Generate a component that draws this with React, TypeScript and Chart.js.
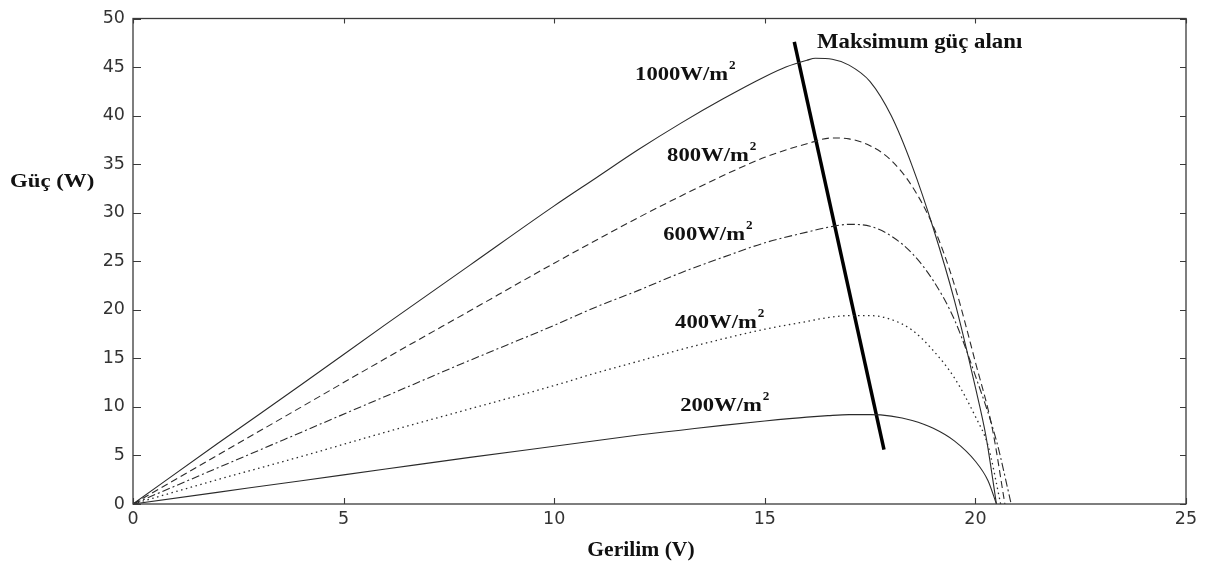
import React, { useEffect, useRef } from "react";
import { Chart, registerables } from "chart.js";

Chart.register(...registerables);

// ---- data ----
const xTickValues = [0, 5, 10, 15, 20, 25];
const yTickValues = [0, 5, 10, 15, 20, 25, 30, 35, 40, 45, 50];

const v1000 = [0, 2, 4, 6, 8, 10, 11, 12, 13, 14, 15, 15.5, 16, 16.2, 16.6, 17, 17.5, 18, 18.5, 19, 19.5, 20, 20.25, 20.5];
const p1000 = [0, 6.2, 12.3, 18.5, 24.6, 30.7, 33.6, 36.5, 39.2, 41.7, 44.0, 45.0, 45.7, 45.9, 45.8, 45.2, 43.5, 40.0, 34.8, 28.4, 21.0, 12.0, 7.0, 0];

const v800 = [0, 2, 4, 6, 8, 10, 12, 13, 14, 15, 16, 16.6, 17, 17.5, 18, 18.5, 19, 19.5, 20, 20.4, 20.7];
const p800 = [0, 5.0, 10.0, 15.0, 19.9, 24.8, 29.5, 31.7, 33.8, 35.7, 37.1, 37.7, 37.6, 36.9, 35.4, 32.7, 28.6, 22.6, 14.6, 7.8, 0];

const v600 = [0, 2, 4, 6, 8, 10, 11, 12, 13, 14, 15, 16, 16.5, 17, 17.5, 18, 18.5, 19, 19.5, 20, 20.5, 20.85];
const p600 = [0, 3.7, 7.4, 11.1, 14.8, 18.4, 20.3, 22.0, 23.8, 25.4, 26.9, 28.0, 28.5, 28.8, 28.6, 27.6, 25.8, 23.0, 19.0, 13.2, 6.5, 0];

const v400 = [0, 2, 4, 6, 8, 10, 11, 12, 13, 14, 15, 16, 16.5, 17, 17.5, 18, 18.5, 19, 19.5, 20, 20.3, 20.6];
const p400 = [0, 2.5, 4.9, 7.4, 9.8, 12.2, 13.5, 14.7, 15.9, 17.0, 18.0, 18.8, 19.2, 19.4, 19.4, 19.0, 17.9, 15.8, 13.0, 9.0, 6.0, 0];

const v200 = [0, 2, 4, 6, 8, 10, 12, 13, 14, 15, 16, 16.5, 17, 17.5, 18, 18.5, 19, 19.5, 20, 20.3, 20.5];
const p200 = [0, 1.2, 2.4, 3.6, 4.8, 5.95, 7.1, 7.6, 8.1, 8.55, 8.95, 9.1, 9.2, 9.2, 9.05, 8.6, 7.8, 6.5, 4.4, 2.4, 0];

const mppV = [15.7, 17.83];
const mppP = [47.6, 5.6];

const seriesNames = ["1000W/m", "800W/m", "600W/m", "400W/m", "200W/m"];
const mppLabel = "Maksimum güç alanı";
const xTitle = "Gerilim (V)";
const yTitle = "Güç (W)";

// label anchors (data coordinates: voltage, power of text baseline)
const labelAnchors = [
  [11.92, 43.7],
  [12.68, 35.3],
  [12.59, 27.2],
  [12.87, 18.1],
  [12.99, 9.55],
];
const mppLabelAnchor = [16.24, 46.95];

const zip = (xs: number[], ys: number[]) => xs.map((x, i) => ({ x, y: ys[i] }));

const SERIF = '"Liberation Serif", "Times New Roman", serif';

function drawStretched(ctx: CanvasRenderingContext2D, text: string, x: number, y: number, size: number, sx: number) {
  ctx.save();
  ctx.translate(x, y);
  ctx.scale(sx, 1);
  ctx.font = `bold ${size}px ${SERIF}`;
  ctx.textAlign = "left";
  ctx.textBaseline = "alphabetic";
  ctx.fillText(text, 0, 0);
  const w = ctx.measureText(text).width * sx;
  ctx.restore();
  return w;
}

const framePlugin = {
  id: "framePlugin",
  afterDraw(chart: any) {
    const { ctx, chartArea: a, scales } = chart;
    const xs = scales.x;
    const ys = scales.y;
    ctx.save();
    ctx.strokeStyle = "#3a3a3a";
    ctx.lineWidth = 1.3;
    ctx.strokeRect(a.left, a.top, a.right - a.left, a.bottom - a.top);
    ctx.lineWidth = 1.1;
    ctx.beginPath();
    xs.ticks.forEach((t: any) => {
      const px = Math.round(xs.getPixelForValue(t.value)) + 0.5;
      ctx.moveTo(px, a.bottom);
      ctx.lineTo(px, a.bottom - 6);
      ctx.moveTo(px, a.top);
      ctx.lineTo(px, a.top + 5);
    });
    ys.ticks.forEach((t: any) => {
      const py = Math.round(ys.getPixelForValue(t.value)) + 0.5;
      ctx.moveTo(a.left, py);
      ctx.lineTo(a.left + 8, py);
      ctx.moveTo(a.right, py);
      ctx.lineTo(a.right - 6, py);
    });
    ctx.stroke();

    ctx.fillStyle = "#111";
    const sx = 1.16;
    seriesNames.forEach((name, i) => {
      const px = xs.getPixelForValue(labelAnchors[i][0]);
      const py = ys.getPixelForValue(labelAnchors[i][1]);
      const w = drawStretched(ctx, name, px, py, 19.5, sx);
      drawStretched(ctx, "2", px + w + 1, py - 11, 12, 1.1);
    });
    drawStretched(ctx, mppLabel, xs.getPixelForValue(mppLabelAnchor[0]), ys.getPixelForValue(mppLabelAnchor[1]), 20, 1.14);

    // axis titles
    drawStretched(ctx, yTitle, 10, ys.getPixelForValue(32.6), 19, 1.2);
    ctx.save();
    ctx.font = `bold 20px ${SERIF}`;
    const tw = ctx.measureText(xTitle).width * 1.08;
    ctx.restore();
    const cx = xs.getPixelForValue(12.06);
    drawStretched(ctx, xTitle, cx - tw / 2, a.bottom + 52, 20, 1.08);
    ctx.restore();
  },
};

const lineColor = "#2b2b2b";

export default function App() {
  const ref = useRef<HTMLCanvasElement | null>(null);
  useEffect(() => {
    if (!ref.current) return;
    const common = {
      borderColor: lineColor,
      borderWidth: 1.1,
      pointRadius: 0,
      fill: false,
      cubicInterpolationMode: "monotone" as const,
    };
    const chart = new Chart(ref.current, {
      type: "line",
      data: {
        datasets: [
          { ...common, label: "1000", data: zip(v1000, p1000) },
          { ...common, label: "800", data: zip(v800, p800), borderDash: [7, 4] },
          { ...common, label: "600", data: zip(v600, p600), borderDash: [8, 3, 2, 3] },
          { ...common, label: "400", data: zip(v400, p400), borderDash: [1.5, 3.5], borderWidth: 1.3 },
          { ...common, label: "200", data: zip(v200, p200) },
          {
            label: "mpp",
            data: zip(mppV, mppP),
            borderColor: "#000",
            borderWidth: 3.5,
            pointRadius: 0,
            fill: false,
            tension: 0,
          },
        ],
      },
      options: {
        animation: false,
        responsive: true,
        maintainAspectRatio: false,
        layout: { padding: { left: 0, top: 12, right: 25, bottom: 0 } },
        plugins: { legend: { display: false }, tooltip: { enabled: false } },
        scales: {
          x: {
            type: "linear",
            min: 0,
            max: 25,
            afterBuildTicks: (s: any) => {
              s.ticks = xTickValues.map((v) => ({ value: v }));
            },
            ticks: {
              padding: 5,
              color: "#333",
              maxRotation: 0,
              autoSkip: false,
              font: { family: '"DejaVu Sans", sans-serif', size: 17.5 },
            },
            grid: { display: false, drawTicks: false },
            border: { display: false },
            afterFit: (s: any) => {
              s.height = 62;
            },
          },
          y: {
            type: "linear",
            min: 0,
            max: 50,
            afterBuildTicks: (s: any) => {
              s.ticks = yTickValues.map((v) => ({ value: v }));
            },
            ticks: {
              padding: 8,
              color: "#333",
              autoSkip: false,
              font: { family: '"DejaVu Sans", sans-serif', size: 17.5 },
            },
            grid: { display: false, drawTicks: false },
            border: { display: false },
            afterFit: (s: any) => {
              s.width = 133;
            },
          },
        },
      },
      plugins: [framePlugin],
    } as any);
    return () => chart.destroy();
  }, []);
  return (
    <div style={{ position: "fixed", left: 0, top: 0, width: 1211, height: 566, background: "#fff" }}>
      <canvas ref={ref} />
    </div>
  );
}
